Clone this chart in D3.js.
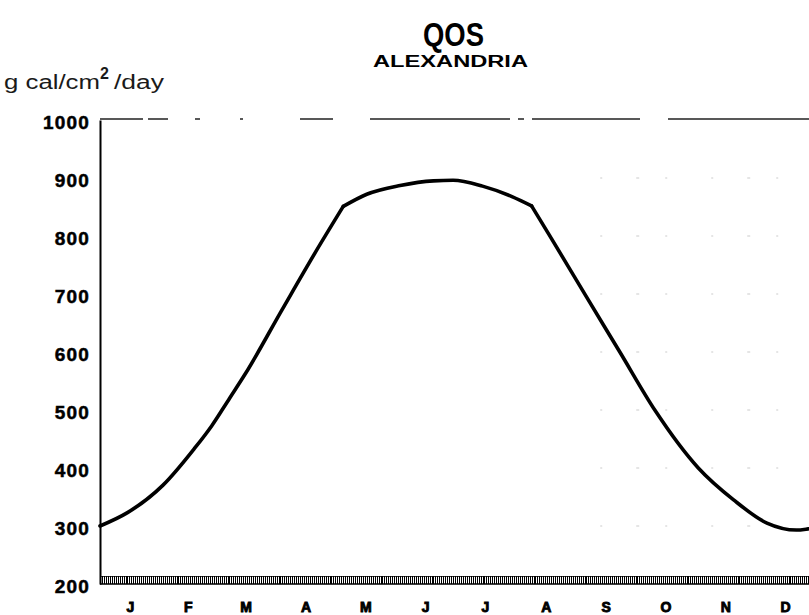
<!DOCTYPE html>
<html>
<head>
<meta charset="utf-8">
<script src="https://cdn.jsdelivr.net/npm/d3@7"></script>
<style>
  html, body { margin: 0; padding: 0; background: #fff; }
  svg { display: block; }
</style>
</head>
<body>
<script>
// ---- data ----
const titleText = "QOS";
const subtitleText = "ALEXANDRIA";
const unitMain = "g cal/cm";
const unitSup = "2";
const unitTail = "/day";

const monthLabels = ["J","F","M","A","M","J","J","A","S","O","N","D"];
const monthDays = [31,28,31,30,31,30,31,31,30,31,30,31];
const yTicks = [200,300,400,500,600,700,800,900,1000];

// day of year and daily global radiation (g cal/cm^2/day)
const dayOfYear = [0, 14, 32, 48, 57, 66, 74, 93, 110, 124, 136, 153, 170, 180, 195, 210, 220, 229, 248, 265, 283, 305, 323, 340, 355, 361, 365];
const qosValue  = [300, 323, 370, 433, 473, 520, 562, 674, 773, 851, 872, 887, 895, 896, 886, 868, 852, 802, 695, 600, 499, 400, 345, 305, 293, 295, 297];
// days where the record changes slope abruptly
const slopeBreaks = [124, 220];

// ---- chart ----
const W = 809, H = 615;
const FONT = "Liberation Sans, Arial, Helvetica, sans-serif";
const svg = d3.select("body").append("svg").attr("width", W).attr("height", H);

const x = d3.scaleLinear().domain([0, 365]).range([100, 816]);
const y = d3.scaleLinear().domain([200, 1000]).range([584, 120]);

// titles
svg.append("text").attr("x", 423).attr("y", 46)
  .attr("textLength", 61).attr("lengthAdjust", "spacingAndGlyphs")
  .style("font-family", FONT)
  .style("font-weight", "bold").style("font-size", "33px")
  .text(titleText);
svg.append("text").attr("x", 373).attr("y", 67)
  .attr("textLength", 155).attr("lengthAdjust", "spacingAndGlyphs")
  .style("font-family", FONT)
  .style("font-weight", "bold").style("font-size", "16px")
  .text(subtitleText);

// unit label
const unit = svg.append("text").attr("y", 89)
  .style("font-family", FONT)
  .style("font-size", "20px").style("fill", "#1a1a1a");
unit.append("tspan").attr("x", 4).attr("textLength", 96).attr("lengthAdjust", "spacingAndGlyphs").text(unitMain);
unit.append("tspan").attr("x", 100).attr("y", 79).style("font-size", "16px").style("font-weight", "bold").text(unitSup);
unit.append("tspan").attr("x", 114).attr("y", 89).attr("textLength", 50).attr("lengthAdjust", "spacingAndGlyphs").text(unitTail);

// faint broken grid remnants on the right
svg.append("g").selectAll("line").data(yTicks.filter(v => v > 200 && v < 1000)).join("line")
  .attr("x1", x(255)).attr("x2", W)
  .attr("y1", d => y(d)).attr("y2", d => y(d))
  .attr("stroke", "#aaa").attr("stroke-width", 0.6)
  .attr("stroke-dasharray", "2,34,3,26,2,44");

// top border at 1000 (broken, as in the print)
svg.append("line")
  .attr("x1", x(0)).attr("x2", W)
  .attr("y1", y(1000) - 1).attr("y2", y(1000) - 1)
  .attr("stroke", "#222").attr("stroke-width", 1.3)
  .attr("stroke-dasharray", "43,5,20,27,5,40,3,57,33,37,140,8,6,8,108,28,141");

// y axis
const yAxis = d3.axisLeft(y).tickValues(yTicks).tickFormat(d3.format("d")).tickSize(0).tickPadding(10);
const gy = svg.append("g").attr("transform", `translate(${x(0)},0)`).call(yAxis);
gy.select(".domain").attr("stroke", "#000").attr("stroke-width", 2);
gy.selectAll("text")
  .style("font-family", FONT)
  .style("font-weight", "bold").style("font-size", "19px")
  .style("letter-spacing", "1.2px")
  .attr("stroke", "#000").attr("stroke-width", 0.5)
  .attr("dy", "0.45em").attr("fill", "#000");

// x axis: baseline with daily ticks
const days = d3.range(0, 366);
svg.append("line")
  .attr("x1", x(0)).attr("x2", W)
  .attr("y1", y(200)).attr("y2", y(200))
  .attr("stroke", "#000").attr("stroke-width", 1.5);
svg.append("g").selectAll("line").data(days).join("line")
  .attr("x1", d => Math.round(x(d)) + 0.5).attr("x2", d => Math.round(x(d)) + 0.5)
  .attr("y1", y(200) - 8).attr("y2", y(200))
  .attr("stroke", "#000").attr("stroke-width", 1);
svg.append("line")
  .attr("x1", x(0)).attr("x2", W)
  .attr("y1", y(200) - 7.5).attr("y2", y(200) - 7.5)
  .attr("stroke", "#000").attr("stroke-width", 0.8);

// month labels at mid-month
const monthStart = monthDays.map((d, i) => d3.sum(monthDays.slice(0, i)));
svg.append("g").selectAll("text").data(monthLabels).join("text")
  .attr("x", (d, i) => x(monthStart[i] + monthDays[i] / 2))
  .attr("y", 612)
  .attr("text-anchor", "middle")
  .style("font-family", FONT)
  .style("font-weight", "bold").style("font-size", "14px")
  .attr("stroke", "#000").attr("stroke-width", 0.9)
  .text(d => d);

// the curve: smooth pieces joined at the slope breaks
const pts = dayOfYear.map((d, i) => [d, qosValue[i]]);
const bounds = [0, ...slopeBreaks, 365];
const pieces = d3.range(bounds.length - 1).map(k => pts.filter(p => p[0] >= bounds[k] && p[0] <= bounds[k + 1]));
const line = d3.line().x(d => x(d[0])).y(d => y(d[1])).curve(d3.curveMonotoneX);
svg.append("g").selectAll("path").data(pieces).join("path")
  .attr("d", line)
  .attr("fill", "none").attr("stroke", "#000")
  .attr("stroke-width", 3.6).attr("stroke-linejoin", "round").attr("stroke-linecap", "round");
</script>
</body>
</html>
